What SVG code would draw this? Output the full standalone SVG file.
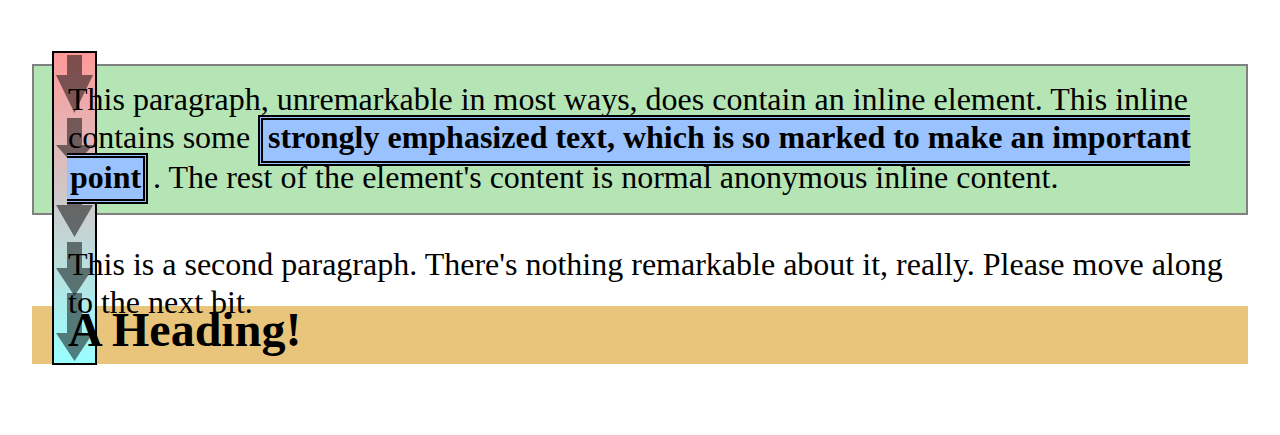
<svg xmlns="http://www.w3.org/2000/svg" width="1280" height="435" viewBox="0 0 1280 435">
<style>
.t{font-family:"Liberation Serif","Times New Roman",serif;font-size:32px;fill:#000}
.b{font-weight:bold}
.h{font-size:48px;font-weight:bold}
.strongbg{fill:#99c2ff}
.dbl{stroke:#000;fill:none}
.arrow{fill:#000;fill-opacity:0.5}
</style>
<defs>
<linearGradient id="strip" x1="0" y1="0" x2="0" y2="1">
<stop offset="0" stop-color="#ff9999"/>
<stop offset="1" stop-color="#99ffff"/>
</linearGradient>
<filter id="soft" x="-20%" y="-20%" width="140%" height="140%"><feGaussianBlur stdDeviation="0.7"/></filter>
</defs>
<rect width="1280" height="435" fill="#fff"/>
<g id="para1-box"><rect x="33" y="65" width="1214" height="149" fill="#b5e5b5" stroke="#808080" stroke-width="2"/></g>
<g id="heading-box"><rect x="32" y="306" width="1216" height="58" fill="#e8c57a"/></g>
<g id="linebox-strip">
<rect x="53" y="52" width="43" height="312" fill="url(#strip)" stroke="#000" stroke-width="2"/>
<g filter="url(#soft)">
<path class="arrow" d="M67,55H82V75H93L74.5,113L56,75H67Z"/>
<path class="arrow" d="M67,118H82V145H93L74.5,166L56,145H67Z"/>
<path class="arrow" d="M67,160H82V205H93L74.5,237L56,205H67Z"/>
<path class="arrow" d="M67,242H82V268H93L74.5,296L56,268H67Z"/>
<path class="arrow" d="M67,293H82V333H93L74.5,361L56,333H67Z"/>
</g>
</g>
<g id="strong-boxes">
<rect class="strongbg" x="258" y="115" width="932" height="51"/>
<path class="dbl" stroke-width="2" d="M1190,116H259V165H1190"/>
<path class="dbl" stroke-width="2" d="M1190,119H262V162H1190"/>
<rect class="strongbg" x="67" y="153" width="81" height="51"/>
<path class="dbl" stroke-width="2" d="M67,154H147V203H67"/>
<path class="dbl" stroke-width="2" d="M67,157H144V200H67"/>
</g>
<g id="para1-text">
<text class="t" x="68" y="110">This paragraph, unremarkable in most ways, does contain an inline element. This inline</text>
<text class="t" x="68" y="148">contains some <tspan class="b" x="268">strongly emphasized text, which is so marked to make an important</tspan></text>
<text class="t" y="188"><tspan class="b" x="70">point</tspan><tspan x="153">. The rest of the element's content is normal anonymous inline content.</tspan></text>
</g>
<g id="para2-text">
<text class="t" x="68" y="275">This is a second paragraph. There's nothing remarkable about it, really. Please move along</text>
<text class="t" x="68" y="313">to the next bit.</text>
</g>
<g id="heading-text">
<text class="t h" x="68" y="346">A Heading!</text>
</g>
</svg>
